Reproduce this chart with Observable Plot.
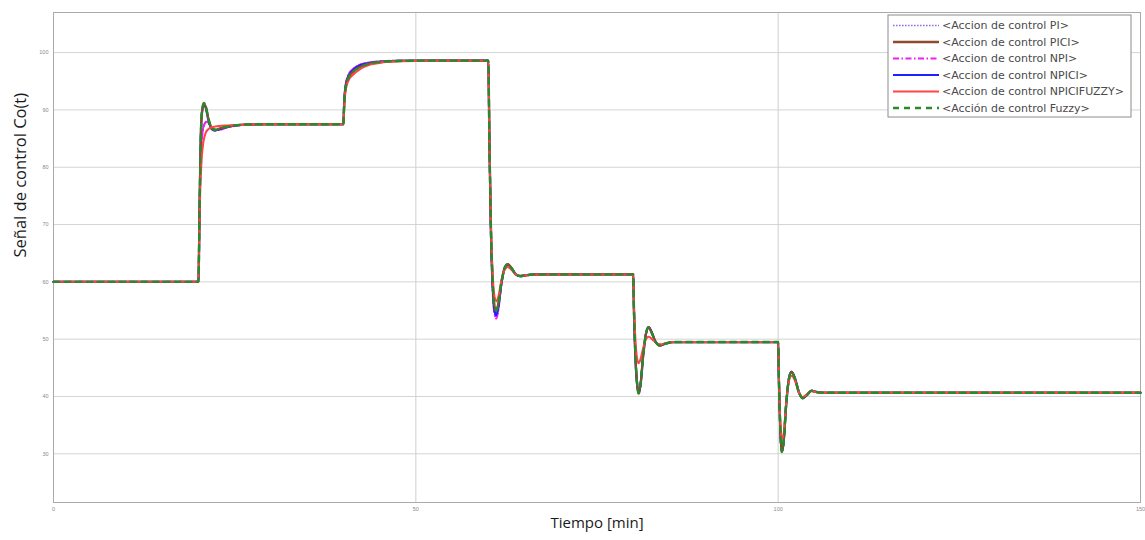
<!DOCTYPE html>
<html>
<head>
<meta charset="utf-8">
<script src="https://cdn.jsdelivr.net/npm/d3@7"></script>
<script src="https://cdn.jsdelivr.net/npm/@observablehq/plot@0.6"></script>
<style>
  html, body { margin: 0; padding: 0; background: #fff; }
  #chart svg { display: block; font-family: "Liberation Sans", Arial, sans-serif; }
</style>
</head>
<body>
<div id="chart"></div>
<script>
// Axis ticks
const xTicks = [0, 50, 100, 150];
const yTicks = [30, 40, 50, 60, 70, 80, 90, 100];

// Control action traces, [time (min), Co(t)]
const ctrlPI = [
  [0,60],[20,60],[20.15,72],[20.3,81],[20.55,85.8],[20.85,87.5],[21.2,87.9],[21.6,87.3],[22.2,86.6],[22.8,86.5],[23.6,86.8],[25,87.2],[27,87.45],[29,87.5],[40,87.5],
  [40.1,91],[40.3,94.3],[40.7,96.1],[41.3,97.1],[42.3,97.9],[43.7,98.3],[45.5,98.5],[48,98.6],[60,98.6],
  [60.15,85],[60.35,69.5],[60.6,59],[60.85,55],[61.1,54],[61.4,55.5],[61.8,59.6],[62.3,62.5],[62.7,63],[63.2,62.4],[63.8,61.3],[64.4,61],[65.2,61.15],[66.5,61.3],[80,61.3],
  [80.1,55],[80.3,47],[80.55,42],[80.75,40.6],[81,42],[81.4,47.5],[81.8,51.2],[82.15,52.1],[82.5,51.3],[83.1,49.5],[83.7,48.9],[84.4,49.2],[85.5,49.5],[100,49.5],
  [100.1,43],[100.3,34],[100.5,30.4],[100.75,32],[101.1,38.5],[101.5,43.2],[101.85,44.3],[102.3,43.2],[102.9,40.6],[103.4,39.7],[104,40.3],[104.6,41],[105.2,40.8],[106.5,40.65],[150,40.65]
];
const ctrlPICI = [
  [0,60],[20,60],[20.15,72],[20.3,84],[20.5,89.8],[20.75,91.1],[21,90.6],[21.4,88.3],[21.8,86.9],[22.3,86.5],[23,86.8],[24.5,87.2],[26.5,87.45],[29,87.5],[40,87.5],
  [40.1,90.5],[40.3,93.8],[40.7,95.6],[41.3,96.6],[42.3,97.5],[43.7,98.1],[45.5,98.4],[48,98.55],[52,98.6],[60,98.6],
  [60.15,85],[60.35,70],[60.6,60],[60.85,55.8],[61.1,55],[61.4,56.3],[61.8,59.8],[62.3,62.6],[62.7,63.1],[63.2,62.4],[63.8,61.3],[64.4,61],[65.2,61.15],[66.5,61.3],[80,61.3],
  [80.1,55],[80.3,47],[80.55,42],[80.75,40.6],[81,42],[81.4,47.5],[81.8,51.2],[82.15,52.1],[82.5,51.3],[83.1,49.5],[83.7,48.9],[84.4,49.2],[85.5,49.5],[100,49.5],
  [100.1,43],[100.3,34],[100.5,30.4],[100.75,32],[101.1,38.5],[101.5,43.2],[101.85,44.3],[102.3,43.2],[102.9,40.6],[103.4,39.7],[104,40.3],[104.6,41],[105.2,40.8],[106.5,40.65],[150,40.65]
];
const ctrlNPI = [
  [0,60],[20,60],[20.15,72],[20.3,81],[20.55,85.8],[20.85,87.6],[21.2,88],[21.6,87.3],[22.2,86.6],[22.8,86.5],[23.6,86.8],[25,87.2],[27,87.45],[29,87.5],[40,87.5],
  [40.1,91],[40.3,94.3],[40.7,96.1],[41.3,97.1],[42.3,97.9],[43.7,98.3],[45.5,98.5],[48,98.6],[60,98.6],
  [60.15,85],[60.35,69],[60.6,58.5],[60.85,54.5],[61.1,53.6],[61.4,55.2],[61.8,59.5],[62.3,62.5],[62.7,63],[63.2,62.4],[63.8,61.3],[64.4,61],[65.2,61.15],[66.5,61.3],[80,61.3],
  [80.1,55],[80.3,47],[80.55,42],[80.75,40.6],[81,42],[81.4,47.5],[81.8,51.2],[82.15,52.1],[82.5,51.3],[83.1,49.5],[83.7,48.9],[84.4,49.2],[85.5,49.5],[100,49.5],
  [100.1,43],[100.3,34],[100.5,30.4],[100.75,32],[101.1,38.5],[101.5,43.2],[101.85,44.3],[102.3,43.2],[102.9,40.6],[103.4,39.7],[104,40.3],[104.6,41],[105.2,40.8],[106.5,40.65],[150,40.65]
];
const ctrlNPICI = [
  [0,60],[20,60],[20.15,72],[20.3,84],[20.5,89.6],[20.75,90.9],[21,90.4],[21.4,88.1],[21.8,86.7],[22.3,86.4],[23,86.7],[24.5,87.2],[26.5,87.45],[29,87.5],[40,87.5],
  [40.1,90.8],[40.3,94.1],[40.7,95.9],[41.3,96.9],[42.3,97.8],[43.7,98.2],[45.5,98.45],[48,98.55],[52,98.6],[60,98.6],
  [60.15,85],[60.35,69.5],[60.6,59.3],[60.85,55],[61.1,54.2],[61.4,55.7],[61.8,59.6],[62.3,62.5],[62.7,63],[63.2,62.4],[63.8,61.3],[64.4,61],[65.2,61.15],[66.5,61.3],[80,61.3],
  [80.1,55],[80.3,47],[80.55,42],[80.75,40.6],[81,42],[81.4,47.5],[81.8,51.2],[82.15,52.1],[82.5,51.3],[83.1,49.5],[83.7,48.9],[84.4,49.2],[85.5,49.5],[100,49.5],
  [100.1,43],[100.3,34],[100.5,30.4],[100.75,32],[101.1,38.5],[101.5,43.2],[101.85,44.3],[102.3,43.2],[102.9,40.6],[103.4,39.7],[104,40.3],[104.6,41],[105.2,40.8],[106.5,40.65],[150,40.65]
];
const ctrlNPICIFUZZY = [
  [0,60],[20,60],[20.1,68],[20.25,76],[20.45,81.5],[20.7,84.5],[21,86],[21.5,86.8],[22.3,87.1],[24,87.3],[27,87.45],[29,87.5],[40,87.5],
  [40.1,90],[40.3,93.3],[40.7,95.1],[41.3,96.1],[42.3,97.1],[43.7,97.9],[45.5,98.3],[48,98.5],[52,98.6],[60,98.6],
  [60.15,85],[60.35,71],[60.6,61.5],[60.85,57.5],[61.1,56.6],[61.4,57.5],[61.8,60.2],[62.3,62.2],[62.7,62.6],[63.2,62.1],[63.8,61.3],[64.4,61.05],[65.2,61.15],[66.5,61.3],[80,61.3],
  [80.1,56],[80.3,50],[80.55,46.5],[80.75,45.8],[81,46.5],[81.4,48.6],[81.8,50.1],[82.15,50.4],[82.6,50],[83.2,49.3],[83.8,49.1],[84.5,49.3],[85.5,49.5],[100,49.5],
  [100.1,43.5],[100.3,35.5],[100.5,32.6],[100.75,33.5],[101.1,38.8],[101.5,42.8],[101.85,43.6],[102.3,42.8],[102.9,40.6],[103.4,39.9],[104,40.4],[104.6,40.95],[105.2,40.8],[106.5,40.65],[150,40.65]
];
const ctrlFuzzy = [
  [0,60],[20,60],[20.15,72],[20.3,84],[20.5,89.9],[20.75,91.2],[21,90.7],[21.4,88.4],[21.8,86.9],[22.3,86.5],[23,86.8],[24.5,87.2],[26.5,87.45],[29,87.5],[40,87.5],
  [40.1,90.5],[40.3,93.8],[40.7,95.6],[41.3,96.6],[42.3,97.5],[43.7,98.1],[45.5,98.4],[48,98.55],[52,98.6],[60,98.6],
  [60.15,85],[60.35,70],[60.6,60],[60.85,55.8],[61.1,55],[61.4,56.3],[61.8,59.8],[62.3,62.6],[62.7,63.1],[63.2,62.4],[63.8,61.3],[64.4,61],[65.2,61.15],[66.5,61.3],[80,61.3],
  [80.1,55],[80.3,47],[80.55,42],[80.75,40.5],[81,42],[81.4,47.5],[81.8,51.2],[82.15,52.1],[82.5,51.3],[83.1,49.5],[83.7,48.9],[84.4,49.2],[85.5,49.5],[100,49.5],
  [100.1,43],[100.3,34],[100.5,30.3],[100.75,32],[101.1,38.5],[101.5,43.2],[101.85,44.3],[102.3,43.2],[102.9,40.6],[103.4,39.7],[104,40.3],[104.6,41],[105.2,40.8],[106.5,40.65],[150,40.65]
];

const seriesNames = [
  "<Accion de control PI>",
  "<Accion de control PICI>",
  "<Accion de control NPI>",
  "<Accion de control NPICI>",
  "<Accion de control NPICIFUZZY>",
  "<Acción de control Fuzzy>"
];
const seriesData = [ctrlPI, ctrlPICI, ctrlNPI, ctrlNPICI, ctrlNPICIFUZZY, ctrlFuzzy];

// Line styles per series (same order as the legend)
const styles = [
  {stroke: "#9a6fd6", width: 1.6, dash: "1.6,1.4"},
  {stroke: "#8f4a2a", width: 2.3, dash: null},
  {stroke: "#f01cf0", width: 2, dash: "6,2.5,1.5,2.5"},
  {stroke: "#2020ff", width: 2.2, dash: null},
  {stroke: "#ff4545", width: 2, dash: null},
  {stroke: "#2a8a2a", width: 2.4, dash: "6,5"}
];
// Drawing order: the blue trace sits under the brown one, the fuzzy trace on top
const drawOrder = [0, 2, 3, 1, 4, 5];

const W = 1145, H = 540;
const M = {left: 53, right: 5, top: 12, bottom: 38};

const lineMarks = drawOrder.map(i =>
  Plot.line(seriesData[i], {
    x: p => p[0], y: p => p[1],
    stroke: styles[i].stroke,
    strokeWidth: styles[i].width,
    strokeDasharray: styles[i].dash,
    curve: "monotone-x"
  })
);

const chart = Plot.plot({
  width: W, height: H,
  marginLeft: M.left, marginRight: M.right, marginTop: M.top, marginBottom: M.bottom,
  x: {domain: [0, 150]},
  y: {domain: [21.5, 107]},
  marks: [
    Plot.gridY(yTicks, {stroke: "#d4d4d4", strokeOpacity: 1}),
    Plot.gridX(xTicks.slice(1, 3), {stroke: "#cfcfcf", strokeOpacity: 1}),
    Plot.frame({stroke: "#aaaaaa"}),
    Plot.axisY(yTicks, {tickSize: 0, tickPadding: 5, fontSize: 5.5, fill: "#8a8a8a", label: null}),
    Plot.axisX(xTicks, {tickSize: 0, tickPadding: 5, fontSize: 5.5, fill: "#8a8a8a", label: null}),
    ...lineMarks,
    Plot.text(["Señal de control Co(t)"], {frameAnchor: "left", rotate: -90, dx: -33, fontSize: 16.5, fill: "#1a1a1a", fontFamily: "Open Sans"}),
    Plot.text(["Tiempo [min]"], {frameAnchor: "bottom", dy: 25, fontSize: 15, fill: "#1a1a1a", fontFamily: "Open Sans"})
  ]
});

document.getElementById("chart").appendChild(chart);

// Legend box in the upper-right corner of the frame
const svg = d3.select(chart);
const lg = svg.append("g").attr("class", "legend");
const boxX = 888, boxY = 15, boxW = 243, rowH = 16.5;
lg.append("rect")
  .attr("x", boxX).attr("y", boxY)
  .attr("width", boxW).attr("height", rowH * seriesNames.length + 3)
  .attr("fill", "#fff").attr("stroke", "#8c8c8c").attr("stroke-width", 1);
seriesNames.forEach((name, i) => {
  const cy = boxY + 10.5 + i * rowH;
  lg.append("line")
    .attr("x1", boxX + 5).attr("x2", boxX + 51)
    .attr("y1", cy).attr("y2", cy)
    .attr("stroke", styles[i].stroke)
    .attr("stroke-width", styles[i].width)
    .attr("stroke-dasharray", styles[i].dash);
  lg.append("text")
    .attr("x", boxX + 54).attr("y", cy)
    .attr("dy", "0.35em")
    .attr("text-anchor", "start")
    .attr("font-family", "DejaVu Sans, sans-serif")
    .attr("font-size", 11)
    .attr("fill", "#4a4a4a")
    .text(name);
});
</script>
</body>
</html>
